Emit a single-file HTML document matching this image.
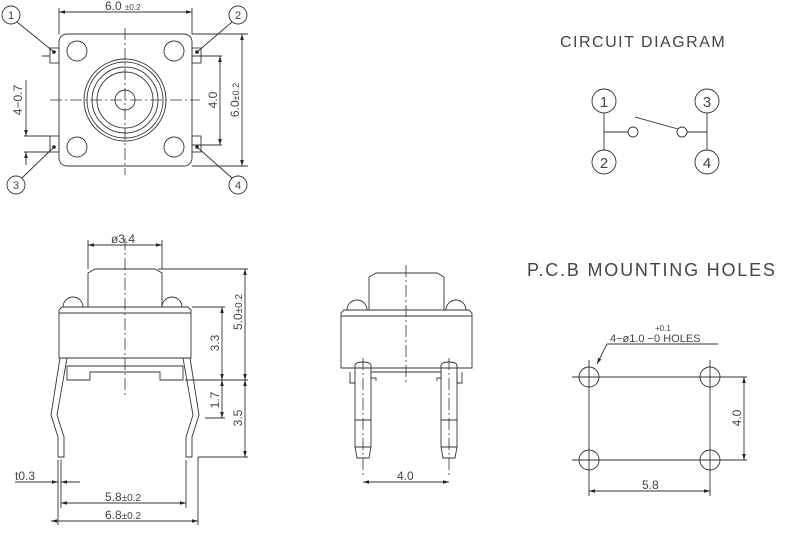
<!DOCTYPE html>
<html><head><style>body{margin:0;background:#fff}svg{display:block}text{font-family:"Liberation Sans",sans-serif;fill:#444}</style></head><body>
<svg width="800" height="536" viewBox="0 0 800 536" xmlns="http://www.w3.org/2000/svg" fill="none" stroke="#333" stroke-width="0.9">
<defs><marker id="a" viewBox="0 0 10 6" refX="10" refY="3" markerWidth="8" markerHeight="4" orient="auto-start-reverse"><path d="M0,0L10,3L0,6z" fill="#222" stroke="none"/></marker></defs>
<!-- TOP VIEW -->
<rect x="59" y="34" width="133" height="132" rx="8"/>
<circle cx="77" cy="51" r="10"/><circle cx="174" cy="51" r="10"/><circle cx="77" cy="147" r="10"/><circle cx="174" cy="147" r="10"/>
<circle cx="125" cy="100" r="41"/><circle cx="125" cy="100" r="38"/><circle cx="125" cy="100" r="33"/><circle cx="125" cy="100" r="28"/><circle cx="125" cy="100" r="10"/>
<path d="M125 28V175M50 100H200" stroke-dasharray="12 3 2 3" stroke-width="0.8"/>
<rect x="50" y="48" width="9" height="15"/><rect x="192" y="48" width="9" height="15"/><rect x="50" y="136" width="9" height="16"/><rect x="192" y="136" width="9" height="16"/>
<g fill="#222" stroke="none"><circle cx="54" cy="52" r="1.8"/><circle cx="197" cy="52" r="1.8"/><circle cx="54" cy="147" r="1.8"/><circle cx="197" cy="147" r="1.8"/></g>
<path d="M42 56H50M192 56H222M192 145H222M192 166H248M192 34H248M59 8V34M192 8V34M24 136H50M24 152H50"/>
<path d="M59 12H192" marker-start="url(#a)" marker-end="url(#a)"/>
<path d="M242 34V166" marker-start="url(#a)" marker-end="url(#a)"/>
<path d="M220 56V145" marker-start="url(#a)" marker-end="url(#a)"/>
<path d="M26 80V136" marker-end="url(#a)"/><path d="M26 165V152" marker-end="url(#a)"/>
<circle cx="11" cy="15" r="9"/><circle cx="238" cy="15" r="9"/><circle cx="16" cy="185" r="9"/><circle cx="238" cy="185" r="9"/>
<path d="M17 22L54 52M232 22L197 52M22 178L54 147M232 178L197 147"/>
<g stroke="none" font-size="11" text-anchor="middle"><text x="11" y="19">1</text><text x="238" y="19">2</text><text x="16" y="189">3</text><text x="238" y="189">4</text></g>
<text x="105" y="10" font-size="12" stroke="none">6.0 <tspan font-size="8">±0.2</tspan></text>
<text transform="translate(239,100) rotate(-90)" font-size="12" stroke="none" text-anchor="middle">6.0<tspan font-size="9">±0.2</tspan></text>
<text transform="translate(217,100) rotate(-90)" font-size="12" stroke="none" text-anchor="middle">4.0</text>
<text transform="translate(22,100) rotate(-90)" font-size="12" stroke="none" text-anchor="middle">4−0.7</text>
<!-- FRONT VIEW -->
<path d="M88 307V273L95 269H155L162 273V307"/>
<path d="M63 307A10 10 0 0 1 83 307M162 307A10 10 0 0 1 182 307"/>
<path d="M59 358V310L62 307H188L191 310V358ZM59 313H191"/>
<path d="M67 366V380H90V372H160V380H183V366H67"/>
<path d="M60 358L51 415L58 437V457H64V437L57 415L67 358M190 358L199 415L192 437V457H186V437L193 415L183 358"/>
<path d="M125 238V395" stroke-dasharray="12 3 2 3" stroke-width="0.8"/>
<path d="M88 240V269M162 240V269M158 269H248M192 307H225M185 380H248M205 418H225M198 457H248M58 460V525M61 460V508M186 460V508M198 457V525"/>
<path d="M88 245H162" marker-start="url(#a)" marker-end="url(#a)"/>
<path d="M245 269V380" marker-start="url(#a)" marker-end="url(#a)"/>
<path d="M222 307V380" marker-start="url(#a)" marker-end="url(#a)"/>
<path d="M222 380V418" marker-start="url(#a)" marker-end="url(#a)"/>
<path d="M245 380V457" marker-start="url(#a)" marker-end="url(#a)"/>
<path d="M15 482H58" marker-end="url(#a)"/><path d="M80 482H61" marker-end="url(#a)"/>
<path d="M61 503H186" marker-start="url(#a)" marker-end="url(#a)"/>
<path d="M51 521H198" marker-start="url(#a)" marker-end="url(#a)"/>
<g stroke="none" font-size="12"><text x="111" y="243">ø3.4</text><text x="15" y="480">t0.3</text>
<text x="105" y="501">5.8<tspan font-size="10">±0.2</tspan></text><text x="105" y="519">6.8<tspan font-size="10">±0.2</tspan></text>
<text transform="translate(242,312) rotate(-90)" text-anchor="middle">5.0<tspan font-size="10">±0.2</tspan></text>
<text transform="translate(219,343) rotate(-90)" text-anchor="middle">3.3</text>
<text transform="translate(219,400) rotate(-90)" text-anchor="middle">1.7</text>
<text transform="translate(242,418) rotate(-90)" text-anchor="middle">3.5</text></g>
<!-- SIDE VIEW -->
<path d="M369 310V277L376 273H437L444 277V310"/>
<path d="M347 310A10 10 0 0 1 367 310M446 310A10 10 0 0 1 466 310"/>
<path d="M341 368V313L344 310H469L472 313V368ZM341 316H472"/>
<path d="M350 372V383H355M457 372V383H462V372M371 378V372H441V378H437V381M371 378H376V381"/>
<path d="M355 366Q355 362 363 362Q371 362 371 366V447L369 458H357L355 447ZM441 366Q441 362 449 362Q457 362 457 366V447L455 458H443L441 447Z"/>
<path d="M355 420H371M355 447H371M441 420H457M441 447H457"/>
<path d="M406 265V382M363 358V475M449 358V475" stroke-dasharray="12 3 2 3" stroke-width="0.8"/>
<path d="M363 482H449" marker-start="url(#a)" marker-end="url(#a)"/>
<text x="397" y="480" font-size="12" stroke="none">4.0</text>
<!-- CIRCUIT -->
<text x="560" y="47" font-size="16" stroke="none" letter-spacing="1.5">CIRCUIT DIAGRAM</text>
<circle cx="604" cy="101" r="12"/><circle cx="604" cy="162" r="12"/><circle cx="707" cy="101" r="12"/><circle cx="707" cy="162" r="12"/>
<path d="M604 113V150M604 132H628M707 113V150M687 132H707M635 117L678 129"/>
<circle cx="633" cy="132" r="5"/><circle cx="682" cy="132" r="5"/>
<g stroke="none" font-size="15" text-anchor="middle"><text x="604" y="107">1</text><text x="604" y="168">2</text><text x="707" y="107">3</text><text x="707" y="168">4</text></g>
<!-- PCB -->
<text x="527" y="276" font-size="18" stroke="none" letter-spacing="1.8">P.C.B MOUNTING HOLES</text>
<circle cx="589" cy="377" r="10"/><circle cx="710" cy="377" r="10"/><circle cx="589" cy="460" r="10"/><circle cx="710" cy="460" r="10"/>
<path d="M572 377H747M572 460H747M589 360V496M710 360V496"/>
<path d="M744 377V460" marker-start="url(#a)" marker-end="url(#a)"/>
<path d="M589 491H710" marker-start="url(#a)" marker-end="url(#a)"/>
<path d="M718 344H607L597 364" marker-end="url(#a)"/>
<g stroke="none"><text x="610" y="342" font-size="11">4−ø1.0 −0  HOLES</text><text x="655" y="331" font-size="8">+0.1</text>
<text x="642" y="489" font-size="12">5.8</text>
<text transform="translate(741,418) rotate(-90)" font-size="12" text-anchor="middle">4.0</text></g>
</svg>
</body></html>
